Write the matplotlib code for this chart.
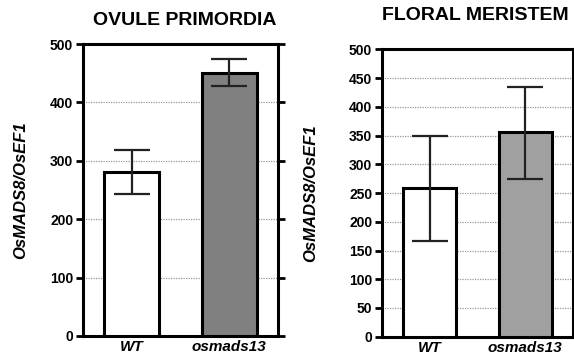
import numpy as np
import matplotlib.pyplot as plt

plt.rcParams['font.family'] = ['Liberation Sans', 'DejaVu Sans']

groups = ['WT', 'osmads13']

ovule_means = [280, 450]
ovule_err_low = [37, 22]
ovule_err_high = [39, 25]

floral_means = [258, 356]
floral_err_low = [91, 81]
floral_err_high = [92, 79]


def draw_panel(ax, title, means, err_low, err_high, colors, ticks, right_ticks):
    x = np.arange(len(groups))
    ax.bar(x, means, width=0.56, color=colors, edgecolor='black', linewidth=2.2, zorder=3)
    ax.errorbar(x, means, yerr=[err_low, err_high], fmt='none', ecolor='#222222',
                elinewidth=1.6, capsize=13, capthick=1.6, zorder=4)
    ax.set_xlim(-0.5, 1.5)
    ax.set_ylim(0, 500)
    ax.set_yticks(ticks)
    for t in ticks[1:-1]:
        ax.axhline(t, color='#999999', linestyle=(0, (1, 1)), linewidth=0.9, zorder=1)
    ax.set_xticks(x)
    ax.set_xticklabels(groups, fontsize=11, fontweight='bold', fontstyle='italic')
    ax.tick_params(axis='x', length=0, pad=3)
    ax.tick_params(axis='y', direction='out', length=5, width=2, labelsize=10, pad=2)
    for lbl in ax.get_yticklabels():
        lbl.set_fontweight('bold')
    if right_ticks:
        ax.tick_params(axis='y', right=True)
    for sp in ax.spines.values():
        sp.set_linewidth(2.2)
    ax.set_ylabel('OsMADS8/OsEF1', fontsize=12, fontweight='bold', fontstyle='italic')


fig = plt.figure(figsize=(5.74, 3.6), dpi=100)

ax1 = fig.add_axes([0.1446, 0.0667, 0.3397, 0.811])
draw_panel(ax1, 'OVULE PRIMORDIA', ovule_means, ovule_err_low, ovule_err_high,
           ['white', '#808080'], [0, 100, 200, 300, 400, 500], True)
ax1.set_title('OVULE PRIMORDIA', fontsize=14, fontweight='bold', pad=14)
ax1.yaxis.labelpad = 16
ax1.title.set_position((0.52, 1.0))

ax2 = fig.add_axes([0.6655, 0.0647, 0.3328, 0.798])
draw_panel(ax2, 'FLORAL MERISTEM', floral_means, floral_err_low, floral_err_high,
           ['white', '#a0a0a0'], list(range(0, 501, 50)), False)
ax2.set_title('FLORAL MERISTEM', fontsize=14, fontweight='bold', pad=21)
ax2.yaxis.labelpad = 22
ax2.title.set_position((0.49, 1.0))

fig.savefig('out.png', dpi=100)
